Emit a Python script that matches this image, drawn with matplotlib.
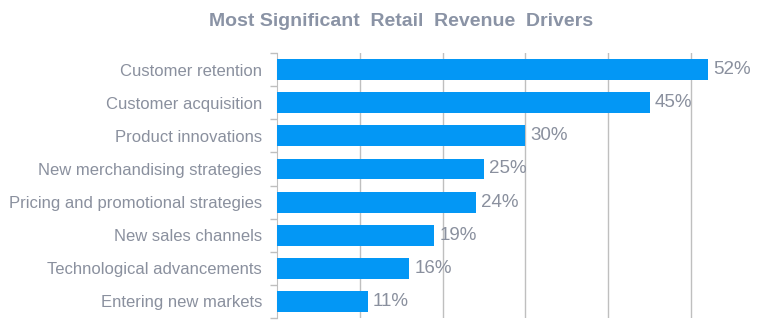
import matplotlib
matplotlib.use("Agg")
import matplotlib.pyplot as plt
from matplotlib.ticker import FixedLocator

categories = [
    "Customer retention",
    "Customer acquisition",
    "Product innovations",
    "New merchandising strategies",
    "Pricing and promotional strategies",
    "New sales channels",
    "Technological advancements",
    "Entering new markets",
]
values = [52, 45, 30, 25, 24, 19, 16, 11]
title = "Most Significant  Retail  Revenue  Drivers"

bar_color = "#0397F5"
text_color = "#8A909E"
grid_color = "#BFBFBF"

plt.rcParams["font.family"] = ["Liberation Sans", "DejaVu Sans"]

fig = plt.figure(figsize=(7.66, 3.33), dpi=100)
ax = fig.add_axes([0.3612, 0.045, 0.6388, 0.7958])

y = list(range(len(categories)))[::-1]
ax.barh(y, values, height=0.63, color=bar_color, zorder=3)
for yi, v in zip(y, values):
    ax.text(v + 0.6, yi, f"{v}%", va="center", ha="left",
            fontsize=13.5, color=text_color, zorder=4)

ax.set_xlim(0, 59)
ax.set_ylim(-0.5, len(categories) - 0.5)
ax.set_yticks(y)
ax.set_yticklabels(categories, fontsize=12, color=text_color)
ax.yaxis.set_minor_locator(FixedLocator([i - 0.5 for i in range(len(categories) + 1)]))
ax.tick_params(axis="y", which="major", length=0, pad=10.5)
ax.tick_params(axis="y", which="minor", length=5, color=grid_color, width=1)

ax.set_xticks([10, 20, 30, 40, 50])
ax.tick_params(axis="x", length=0, labelbottom=False)
ax.grid(axis="x", color=grid_color, linewidth=1, zorder=0)

for side in ["top", "right", "bottom"]:
    ax.spines[side].set_visible(False)
ax.spines["left"].set_color(grid_color)

fig.text(0.523, 0.935, title, ha="center", va="center", fontsize=14,
         fontweight="bold", color="#8A93A5",
         family=["Liberation Sans Narrow", "Liberation Sans", "DejaVu Sans"])

fig.savefig("out.png", dpi=100)
